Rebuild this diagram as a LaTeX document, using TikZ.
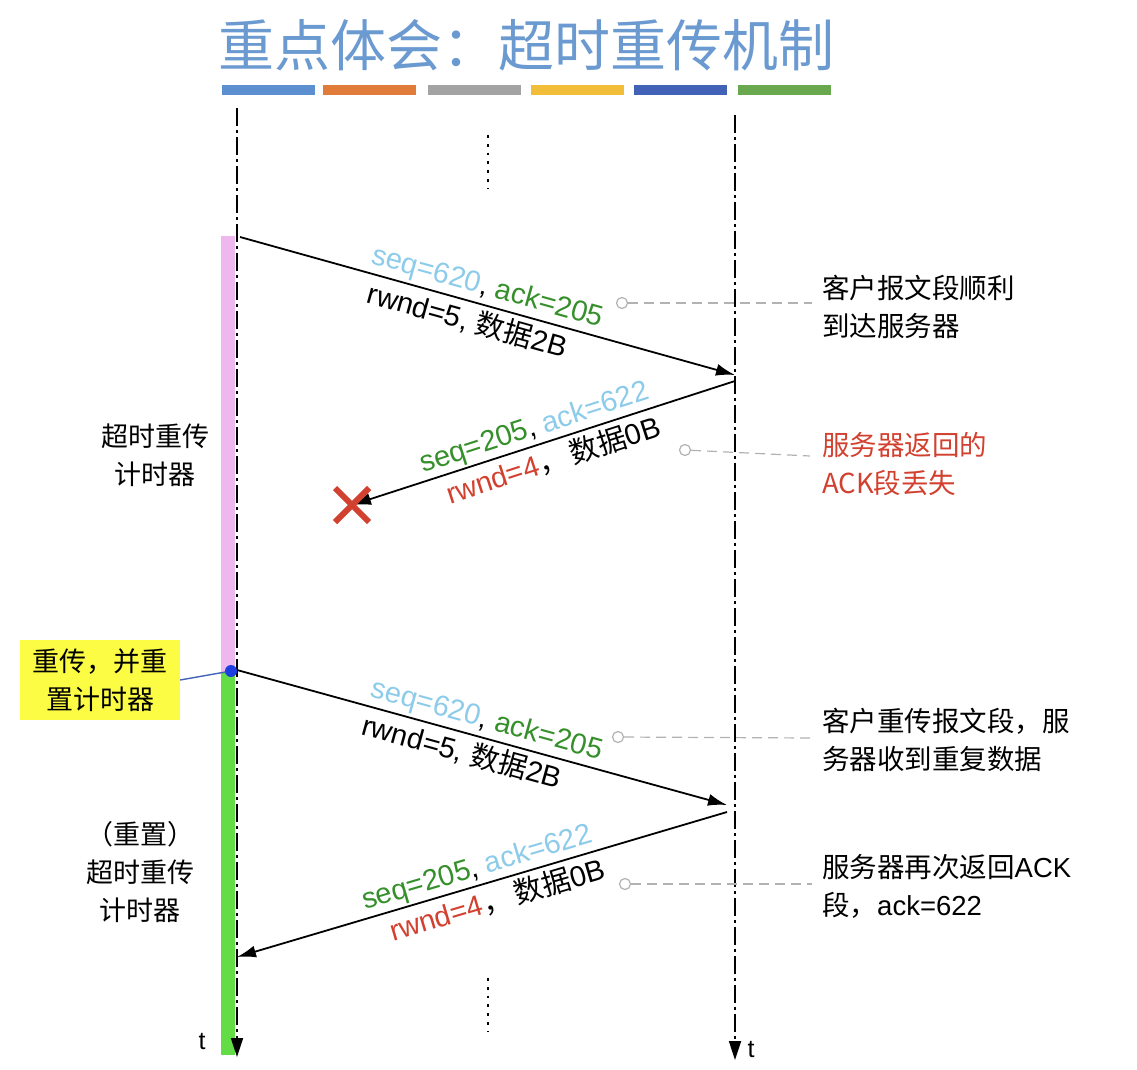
\documentclass[tikz,border=0pt]{standalone}
\usepackage{fontspec}
\setmainfont{Liberation Sans}
\newfontfamily\cjk{Noto Sans CJK SC}
\usetikzlibrary{arrows.meta,shapes.misc}
\definecolor{titleblue}{HTML}{6B9AD1}
\definecolor{bA}{HTML}{5B8FD0}
\definecolor{bB}{HTML}{E07B39}
\definecolor{bC}{HTML}{A3A3A3}
\definecolor{bD}{HTML}{F2BE3A}
\definecolor{bE}{HTML}{4262B8}
\definecolor{bF}{HTML}{6AA84F}
\definecolor{skyb}{HTML}{8CCBEA}
\definecolor{dgreen}{HTML}{358F2A}
\definecolor{lred}{HTML}{D2412F}
\definecolor{pinkbar}{HTML}{EEB7EE}
\definecolor{greenbar}{HTML}{63DD45}
\definecolor{ybox}{HTML}{FCFC45}
\definecolor{dotblue}{HTML}{1E3FE0}
\begin{document}
\begin{tikzpicture}[x=1pt,y=-1pt,
  lbl/.style={font=\fontsize{29}{32}\selectfont, inner sep=1pt},
  side/.style={font=\fontsize{27}{38}\selectfont\cjk, align=center, inner sep=0pt},
  note/.style={font=\fontsize{27.5}{38}\selectfont\cjk, align=left, anchor=west, inner sep=0pt},
  life/.style={line width=1.7pt, dash pattern=on 18pt off 4pt on 3pt off 4pt, -{Triangle[length=19pt,width=12pt]}},
  msg/.style={line width=1.8pt, -{Latex[length=19pt,width=12pt]}},
  msgback/.style={line width=1.8pt, {Latex[length=19pt,width=12pt]}-},
  lead/.style={draw=gray!60, line width=1.2pt, dash pattern=on 10pt off 6pt},
  ring/.style={circle, draw=gray!60, fill=white, line width=1.2pt, minimum size=11pt, inner sep=0pt},
  bar/.style={inner sep=0pt, minimum width=93pt, minimum height=10pt},
  vdots/.style={line width=2.8pt, dash pattern=on 2.8pt off 6pt},
]
\useasboundingbox (0,0) rectangle (1137,1070);

% title and colour bars
\node[font=\fontsize{56}{60}\selectfont\cjk, text=titleblue, inner sep=0pt] (title) at (526,45) {重点体会：超时重传机制};
\node[bar, fill=bA] (bar1) at (268,90) {};
\node[bar, fill=bB] (bar2) at (369,90) {};
\node[bar, fill=bC] (bar3) at (474,90) {};
\node[bar, fill=bD] (bar4) at (577,90) {};
\node[bar, fill=bE] (bar5) at (680,90) {};
\node[bar, fill=bF] (bar6) at (784,90) {};

% timer bars
\fill[pinkbar] (221,236) rectangle (235,672);
\fill[greenbar] (221,672) rectangle (235,1055);

% lifelines
\coordinate (Ltop) at (237,108);
\coordinate (Lbot) at (237,1057);
\coordinate (Rtop) at (735,115);
\coordinate (Rbot) at (735,1060);
\draw[life] (Ltop) -- (Lbot);
\draw[life] (Rtop) -- (Rbot);
\node[font=\fontsize{25}{27}\selectfont] (tL) at (202,1042) {t};
\node[font=\fontsize{25}{27}\selectfont] (tR) at (751,1050) {t};

% ellipses
\draw[vdots] (488,135) -- (488,188);
\draw[vdots] (488,978) -- (488,1031);

% message points
\coordinate (c1) at (240,237);
\coordinate (s1) at (735,375);
\coordinate (s2) at (735,381);
\coordinate (xloc) at (352,505);
\coordinate (c3) at (237,670);
\coordinate (s3) at (727,805);
\coordinate (s4) at (727,812);
\coordinate (c4) at (237,957);

% message 1
\draw[msg] (c1) -- node[lbl, pos=0.49, sloped, above=2pt] {\textcolor{skyb}{seq=620}, \textcolor{dgreen}{ack=205}}
  node[lbl, pos=0.47, sloped, below=3pt] {rwnd=5, {\cjk 数据}2B} (s1);
% message 2 (lost)
\draw[msgback] (xloc) -- node[lbl, pos=0.49, sloped, above=1pt] {\textcolor{dgreen}{seq=205}, \textcolor{skyb}{ack=622}}
  node[lbl, pos=0.51, sloped, below=3pt] {\textcolor{lred}{rwnd=4}{\cjk ，}\,{\cjk 数据}0B} (s2);
\node[cross out, draw=lred, line width=6pt, minimum size=28pt, inner sep=0pt] (lost) at (xloc) {};
% message 3
\draw[msg] (c3) -- node[lbl, pos=0.50, sloped, above=2pt] {\textcolor{skyb}{seq=620}, \textcolor{dgreen}{ack=205}}
  node[lbl, pos=0.47, sloped, below=3pt] {rwnd=5, {\cjk 数据}2B} (s3);
% message 4
\draw[msgback] (c4) -- node[lbl, pos=0.50, sloped, above=1pt] {\textcolor{dgreen}{seq=205}, \textcolor{skyb}{ack=622}}
  node[lbl, pos=0.52, sloped, below=3pt] {\textcolor{lred}{rwnd=4}{\cjk ，}\,{\cjk 数据}0B} (s4);

% left labels
\node[side] (timer1) at (155,455) {超时重传\\计时器};
\node[side] (timer2) at (140,872) {（重置）\\超时重传\\计时器};

% yellow box and blue dot
\node[side, fill=ybox, minimum width=160pt, minimum height=80pt] (ybox) at (100,680) {重传，并重\\置计时器};
\node[circle, fill=dotblue, minimum size=12pt, inner sep=0pt] (bdot) at (231,671) {};
\draw[draw=bE, line width=1.4pt] (ybox.east) -- (bdot);

% right notes
\node[note] (n1) at (822,307) {客户报文段顺利\\到达服务器};
\node[note, text=lred] (n2) at (822,464) {服务器返回的\\ACK段丢失};
\node[note] (n3) at (822,740) {客户重传报文段，服\\务器收到重复数据};
\node[note] (n4) at (822,886) {服务器再次返回{\fontspec{Liberation Sans}ACK}\\段，{\fontspec{Liberation Sans}ack=622}};

% leader lines
\coordinate (e1) at (812,303);
\coordinate (e2) at (810,456);
\coordinate (e3) at (812,738);
\coordinate (e4) at (812,884);
\node[ring] (r1) at (622,303) {};
\node[ring] (r2) at (685,450) {};
\node[ring] (r3) at (618,737) {};
\node[ring] (r4) at (625,884) {};
\draw[lead] (r1) -- (e1);
\draw[lead] (r2) -- (e2);
\draw[lead] (r3) -- (e3);
\draw[lead] (r4) -- (e4);
\end{tikzpicture}
\end{document}
